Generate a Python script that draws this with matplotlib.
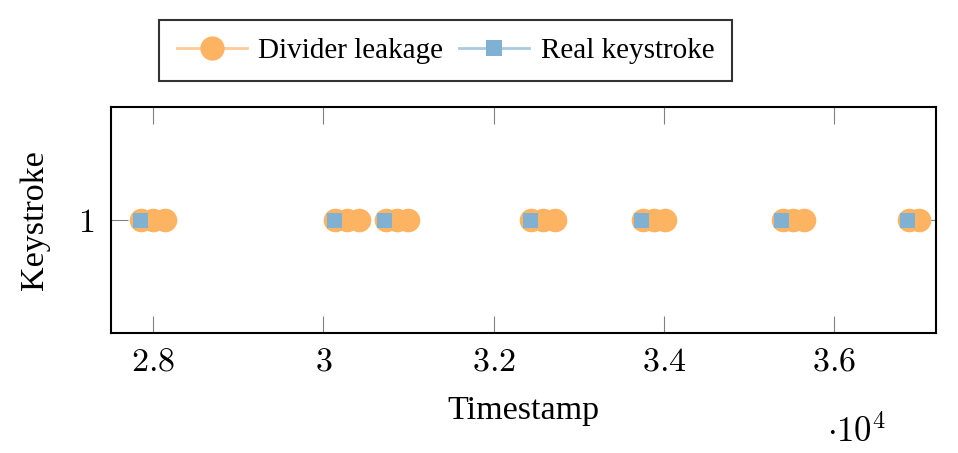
import matplotlib
matplotlib.use('Agg')
import matplotlib.pyplot as plt
from matplotlib.ticker import FuncFormatter

# timestamps
leak_t = [27856, 28000, 28141,
          30141, 30282, 30423,
          30735, 30865, 30994,
          32438, 32579, 32720,
          33753, 33882, 34011,
          35393, 35520, 35643,
          36872, 36990]
key_t = [27842, 30123, 30716, 32430, 33732, 35373, 36858]
x_ticks = [28000, 30000, 32000, 34000, 36000]

ORANGE = '#fdb462'
BLUE = '#80b1d3'

plt.rcParams['font.family'] = 'Liberation Serif'
plt.rcParams['mathtext.fontset'] = 'cm'

fig = plt.figure(figsize=(9.58, 4.53), dpi=100)
ax = fig.add_axes([0.1159, 0.2649, 0.977 - 0.1159, 0.7638 - 0.2649])

ax.plot(leak_t, [1] * len(leak_t), linestyle='none', marker='o', ms=17,
        mew=0, color=ORANGE, zorder=3)
ax.plot(key_t, [1] * len(key_t), linestyle='none', marker='s', ms=10.8,
        mew=0, color=BLUE, zorder=4)

ax.set_xlim(27507, 37194)
ax.set_ylim(0.5, 1.5)
ax.set_xticks(x_ticks)
ax.set_yticks([1])
ax.xaxis.set_major_formatter(FuncFormatter(lambda v, p: f'${v / 1e4:g}$'))
ax.yaxis.set_major_formatter(FuncFormatter(lambda v, p: f'${v:g}$'))
ax.tick_params(direction='in', length=12, width=0.8, color='#808080',
               labelsize=24.5, top=True, right=True, pad=10)
ax.tick_params(axis='y', pad=12)
for s in ax.spines.values():
    s.set_linewidth(1.5)

ax.set_xlabel('Timestamp', fontsize=24.5, labelpad=13)
ax.set_ylabel('Keystroke', fontsize=24.5, labelpad=20)
fig.text(0.894, 0.045, r'$\cdot 10^4$', fontsize=25, ha='center', va='center')

h1, = ax.plot([], [], color='#fdcb97', lw=2, marker='o', ms=17.5, mew=0,
              mfc=ORANGE)
h2, = ax.plot([], [], color='#a8cbe3', lw=2, marker='s', ms=11, mew=0,
              mfc=BLUE)
leg = fig.legend([h1, h2], ['Divider leakage', 'Real keystroke'], ncol=2,
                 loc='upper left', bbox_to_anchor=(159 / 958, 1 - 20 / 453),
                 prop={'family': 'Liberation Serif', 'size': 21},
                 frameon=True, fancybox=False, handlelength=2.4,
                 columnspacing=0.55, handletextpad=0.4, borderpad=0.6,
                 borderaxespad=0)
leg.get_frame().set_edgecolor('black')
leg.get_frame().set_linewidth(1.5)

fig.savefig('out.png', dpi=100)
plt.close(fig)
